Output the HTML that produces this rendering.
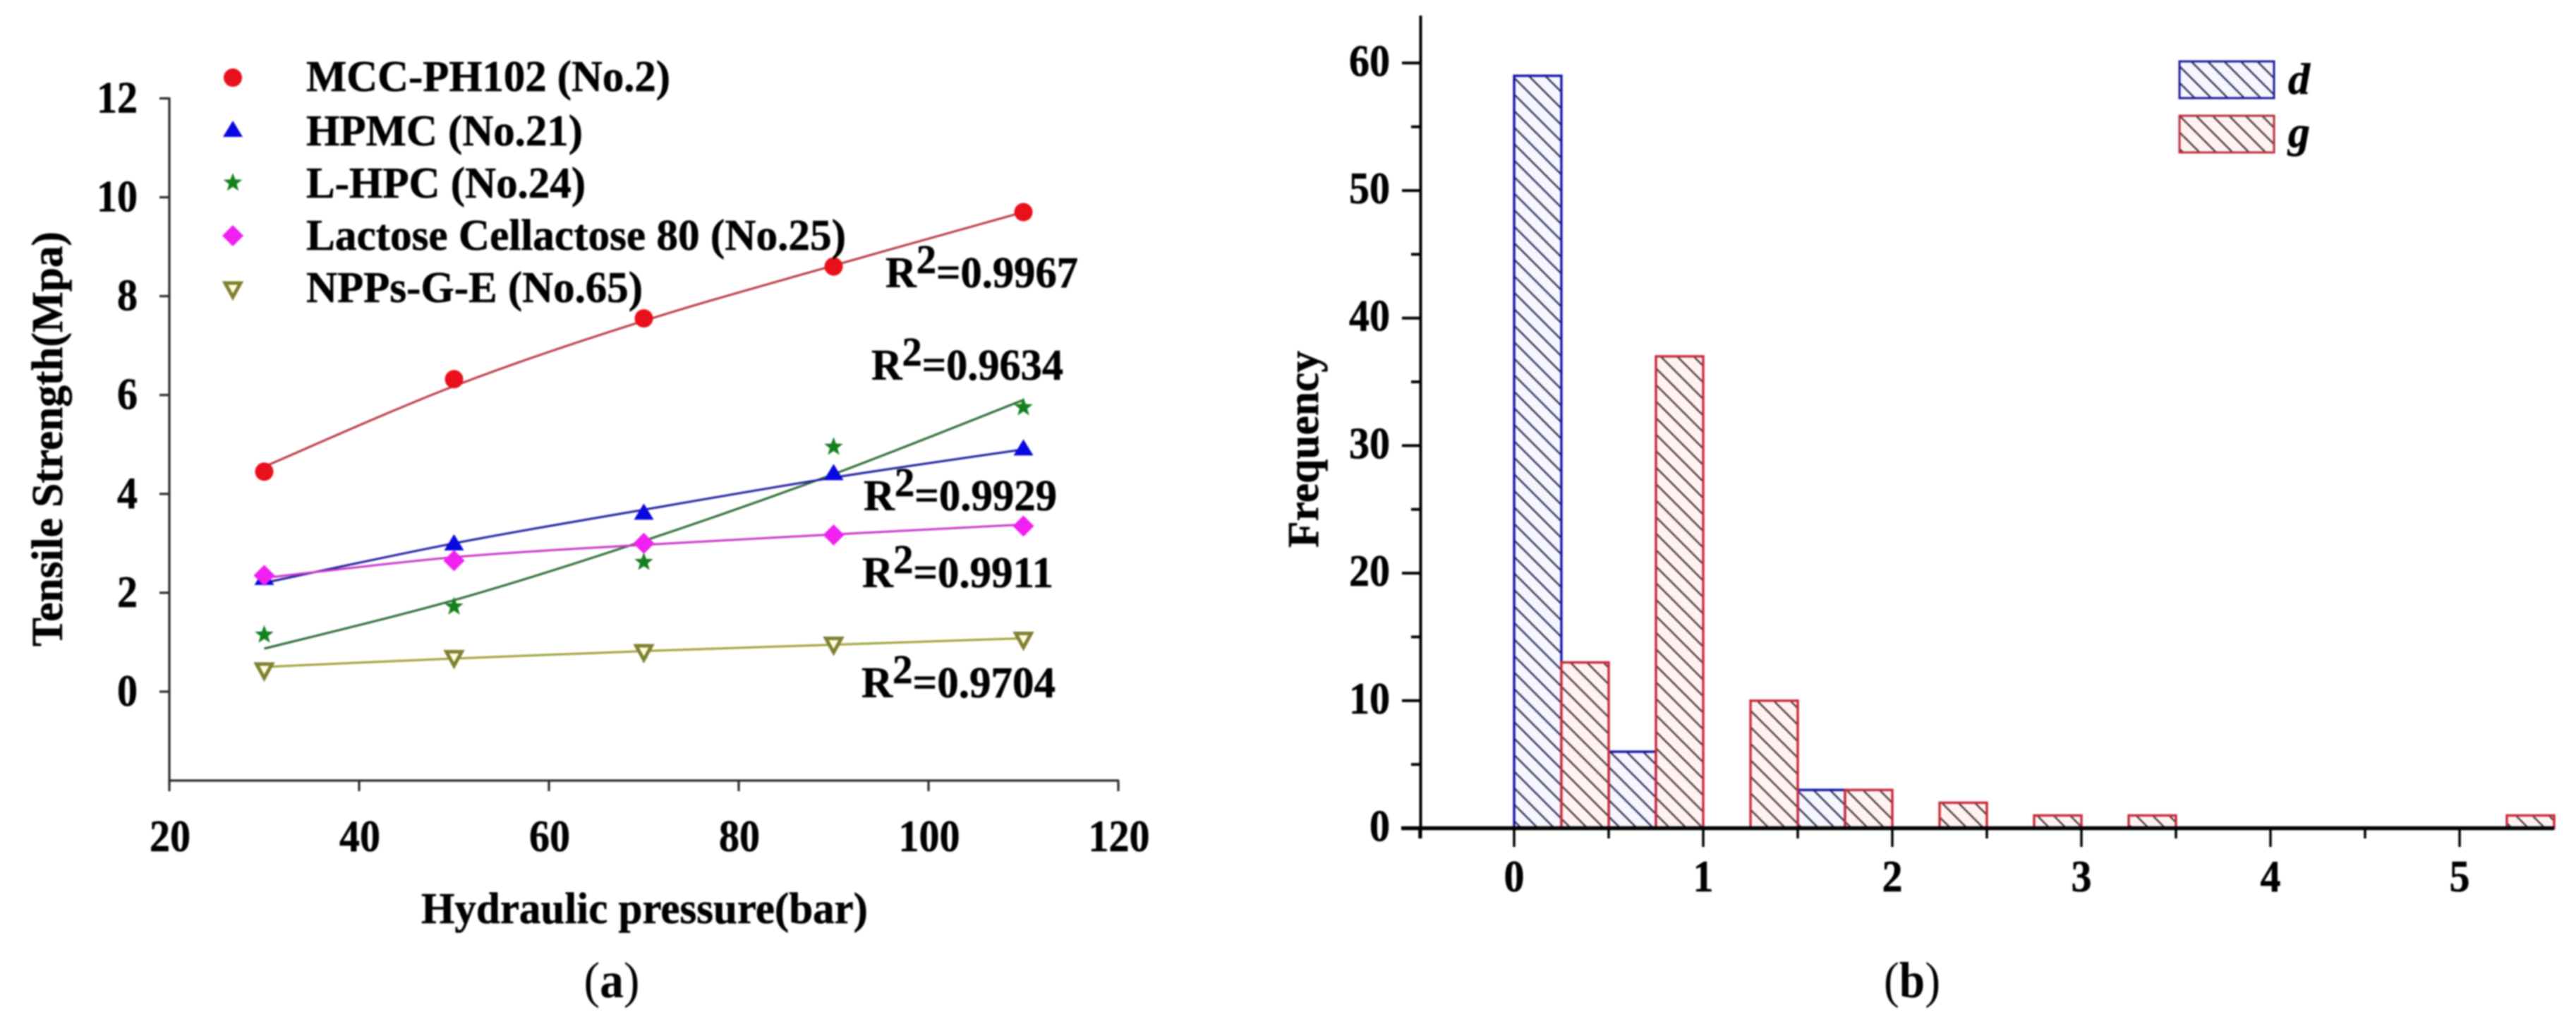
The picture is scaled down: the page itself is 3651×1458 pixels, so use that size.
<!DOCTYPE html>
<html lang="en">
<head>
<meta charset="utf-8">
<title>Tensile strength and frequency charts</title>
<style>
html,body{margin:0;padding:0;background:#fff;width:3651px;height:1458px;overflow:hidden}
svg{display:block;filter:blur(1px)}
text{font-family:"Liberation Serif",serif;font-weight:bold;fill:#000;stroke:#000;stroke-width:.6px}
</style>
</head>
<body>
<svg id="figure" xmlns="http://www.w3.org/2000/svg" width="3651" height="1458" viewBox="0 0 3651 1458">
<defs>
<pattern id="hatch-d" patternUnits="userSpaceOnUse" width="23.4" height="23.4">
<rect width="23.4" height="23.4" fill="#f6f6ff"/>
<path d="M-6 -6L29.4 29.4M-6 17.4L6 29.4M17.4 -6L29.4 6" stroke="#1c1c48" stroke-width="2.2"/>
</pattern>
<pattern id="hatch-g" patternUnits="userSpaceOnUse" width="23.4" height="23.4">
<rect width="23.4" height="23.4" fill="#fff3f2"/>
<path d="M-6 -6L29.4 29.4M-6 17.4L6 29.4M17.4 -6L29.4 6" stroke="#3a2426" stroke-width="2.2"/>
</pattern>
</defs>
<rect width="3651" height="1458" fill="#fff"/>

<g id="panel-a">
<g id="a-axes"></g>
<g id="a-series"></g>
<g>
<g id="a-legend-markers"></g>
<text x="434" y="129" font-size="62" textLength="516" lengthAdjust="spacingAndGlyphs">MCC-PH102 (No.2)</text>
<text x="434" y="206" font-size="62" textLength="392" lengthAdjust="spacingAndGlyphs">HPMC (No.21)</text>
<text x="434" y="280" font-size="62" textLength="396" lengthAdjust="spacingAndGlyphs">L-HPC (No.24)</text>
<text x="434" y="354" font-size="62" textLength="765" lengthAdjust="spacingAndGlyphs">Lactose Cellactose 80 (No.25)</text>
<text x="434" y="428" font-size="62" textLength="477" lengthAdjust="spacingAndGlyphs">NPPs-G-E (No.65)</text>
</g>
<text x="1255" y="407" font-size="62" textLength="273" lengthAdjust="spacingAndGlyphs">R<tspan dy="-20" font-size="58">2</tspan><tspan dy="20">=0.9967</tspan></text>
<text x="1235" y="538" font-size="62" textLength="272" lengthAdjust="spacingAndGlyphs">R<tspan dy="-20" font-size="58">2</tspan><tspan dy="20">=0.9634</tspan></text>
<text x="1224" y="723" font-size="62" textLength="274" lengthAdjust="spacingAndGlyphs">R<tspan dy="-20" font-size="58">2</tspan><tspan dy="20">=0.9929</tspan></text>
<text x="1222" y="832" font-size="62" textLength="271" lengthAdjust="spacingAndGlyphs">R<tspan dy="-20" font-size="58">2</tspan><tspan dy="20">=0.9911</tspan></text>
<text x="1221" y="988" font-size="62" textLength="275" lengthAdjust="spacingAndGlyphs">R<tspan dy="-20" font-size="58">2</tspan><tspan dy="20">=0.9704</tspan></text>
<text x="597" y="1308" font-size="62" textLength="633" lengthAdjust="spacingAndGlyphs">Hydraulic pressure(bar)</text>
<text transform="translate(88 916) rotate(-90)" font-size="62" textLength="588" lengthAdjust="spacingAndGlyphs">Tensile Strength(Mpa)</text>
<text x="867" y="1413" font-size="72" text-anchor="middle" textLength="79" lengthAdjust="spacingAndGlyphs" style="font-weight:normal;stroke-width:0">(<tspan font-weight="bold">a</tspan>)</text>
</g>

<g id="panel-b">
<g id="b-bars"></g>
<g id="b-axes"></g>
<g>
<rect x="3089" y="87" width="134" height="52" fill="url(#hatch-d)" stroke="#1c1c9c" stroke-width="3"/>
<rect x="3089" y="164" width="134" height="52" fill="url(#hatch-g)" stroke="#b83040" stroke-width="3"/>
<text x="3243" y="133" font-size="62" font-style="italic">d</text>
<text x="3243" y="208" font-size="62" font-style="italic">g</text>
</g>
<text transform="translate(1868 776) rotate(-90)" font-size="62" textLength="279" lengthAdjust="spacingAndGlyphs">Frequency</text>
<text x="2710" y="1413" font-size="72" text-anchor="middle" textLength="80" lengthAdjust="spacingAndGlyphs" style="font-weight:normal;stroke-width:0">(<tspan font-weight="bold">b</tspan>)</text>
</g>
</svg>

<script>
/* ---------- Panel (a) data ---------- */
const pressure = [30, 50, 70, 90, 110];
const mccValues = [4.45, 6.32, 7.55, 8.6, 9.7];
const hpmcValues = [2.3, 3.0, 3.62, 4.42, 4.92];
const lhpcValues = [1.15, 1.72, 2.62, 4.95, 5.75];
const lactoseValues = [2.35, 2.65, 3.0, 3.17, 3.35];
const nppsValues = [0.43, 0.68, 0.8, 0.95, 1.05];
const mccFit = [4.55, 6.18, 7.5, 8.62, 9.7];
const hpmcFit = [2.2, 3.0, 3.68, 4.33, 4.9];
const lhpcFit = [0.87, 1.85, 3.05, 4.4, 5.9];
const lactoseFit = [2.3, 2.72, 2.97, 3.18, 3.38];
const nppsFit = [0.5, 0.67, 0.82, 0.95, 1.08];
const xTicksA = [20, 40, 60, 80, 100, 120];
const yTicksA = [0, 2, 4, 6, 8, 10, 12];

/* ---------- Panel (b) data ---------- */
const binStarts = [0, 0.5, 1, 1.5, 2, 2.5, 3, 5];
const dCounts = [59, 6, 0, 3, 0, 0, 0, 0];
const gCounts = [13, 37, 10, 3, 2, 1, 1, 1];
const binWidth = 0.5;
const xTicksB = [0, 1, 2, 3, 4, 5];
const xMinorB = [-0.5, 0.5, 1.5, 2.5, 3.5, 4.5];
const yTicksB = [0, 10, 20, 30, 40, 50, 60];
const yMinorB = [5, 15, 25, 35, 45, 55];

/* ---------- Axis functions ---------- */
const xA = v => 240 + (v - 20) * 13.45;
const yA = v => 980 - v * 70.05;
const xB = v => 2146 + v * 268;
const yB = v => 1173.5 - v * 18.07;

const NS = 'http://www.w3.org/2000/svg';
function make(parent, tag) {
  const el = document.createElementNS(NS, tag);
  parent.appendChild(el);
  return el;
}
function line(parent, x1, y1, x2, y2, w, color) {
  const el = make(parent, 'line');
  el.setAttribute('x1', x1);
  el.setAttribute('y1', y1);
  el.setAttribute('x2', x2);
  el.setAttribute('y2', y2);
  el.setAttribute('stroke', color);
  el.setAttribute('stroke-width', w);
  return el;
}
function label(parent, x, y, str, anchor) {
  const el = make(parent, 'text');
  el.setAttribute('x', x);
  el.setAttribute('y', y);
  el.setAttribute('font-size', '63');
  el.setAttribute('text-anchor', anchor);
  el.setAttribute('textLength', str.length * 29);
  el.setAttribute('lengthAdjust', 'spacingAndGlyphs');
  el.textContent = str;
  return el;
}
function smoothPath(px, py) {
  let d = 'M' + px[0] + ' ' + py[0];
  for (let i = 0; i < px.length - 1; i++) {
    const p0 = i > 0 ? i - 1 : i;
    const p3 = i + 2 < px.length ? i + 2 : i + 1;
    const c1x = px[i] + (px[i + 1] - px[p0]) / 6;
    const c1y = py[i] + (py[i + 1] - py[p0]) / 6;
    const c2x = px[i + 1] - (px[p3] - px[i]) / 6;
    const c2y = py[i + 1] - (py[p3] - py[i]) / 6;
    d += 'C' + c1x + ' ' + c1y + ' ' + c2x + ' ' + c2y + ' ' + px[i + 1] + ' ' + py[i + 1];
  }
  return d;
}
function marker(parent, kind, color, cx, cy) {
  let el;
  if (kind === 'circle') {
    el = make(parent, 'circle');
    el.setAttribute('cx', cx);
    el.setAttribute('cy', cy);
    el.setAttribute('r', 13);
    el.setAttribute('fill', color);
    return el;
  }
  el = make(parent, 'path');
  let d = '';
  if (kind === 'triangle') {
    d = 'M' + cx + ' ' + (cy - 13) + 'L' + (cx + 14) + ' ' + (cy + 10) + 'L' + (cx - 14) + ' ' + (cy + 10) + 'Z';
  } else if (kind === 'diamond') {
    d = 'M' + cx + ' ' + (cy - 15) + 'L' + (cx + 15) + ' ' + cy + 'L' + cx + ' ' + (cy + 15) + 'L' + (cx - 15) + ' ' + cy + 'Z';
  } else if (kind === 'star') {
    for (let i = 0; i < 10; i++) {
      const r = i % 2 ? 5.8 : 14;
      const t = -Math.PI / 2 + i * Math.PI / 5;
      d += (i ? 'L' : 'M') + (cx + r * Math.cos(t)) + ' ' + (cy + r * Math.sin(t));
    }
    d += 'Z';
  } else {
    d = 'M' + (cx - 11) + ' ' + (cy - 9) + 'L' + (cx + 11) + ' ' + (cy - 9) + 'L' + cx + ' ' + (cy + 11) + 'Z';
  }
  el.setAttribute('d', d);
  if (kind === 'hollow') {
    el.setAttribute('fill', '#ffffe0');
    el.setAttribute('stroke', color);
    el.setAttribute('stroke-width', '5');
  } else {
    el.setAttribute('fill', color);
  }
  return el;
}

/* ---------- Panel (a) axes ---------- */
const axesA = document.getElementById('a-axes');
const axisColorA = '#2a2a2a';
let el = line(axesA, 240, 138, 240, 1107.5, 3.2, axisColorA);


el = line(axesA, 238.5, 1106, 1586, 1106, 3.2, axisColorA);


yTicksA.forEach(v => {
  const t = line(axesA, 226, yA(v), 240, yA(v), 3.2, axisColorA);
  
  
  const l = label(axesA, 195, yA(v) + 20, String(v), 'end');
  
  
});
xTicksA.forEach(v => {
  const t = line(axesA, xA(v), 1106, xA(v), 1121, 3.2, axisColorA);
  
  
  const l = label(axesA, xA(v) + 1, 1206, String(v), 'middle');
  
  
});

/* ---------- Panel (a) series ---------- */
const seriesA = document.getElementById('a-series');
function drawSeries(name, values, fit, kind, color, lineColor) {
  const curve = make(seriesA, 'path');
  curve.setAttribute('d', smoothPath(pressure.map(xA), fit.map(yA)));
  curve.setAttribute('fill', 'none');
  curve.setAttribute('stroke', lineColor);
  curve.setAttribute('stroke-width', '3');
  
  
  values.forEach((v, i) => {
    const m = marker(seriesA, kind, color, xA(pressure[i]), yA(v));
    
    
  });
}
drawSeries('mcc', mccValues, mccFit, 'circle', '#e8101a', '#b83840');
drawSeries('lhpc', lhpcValues, lhpcFit, 'star', '#14801f', '#2a6a30');
drawSeries('hpmc', hpmcValues, hpmcFit, 'triangle', '#0808e0', '#2020a0');
drawSeries('lactose', lactoseValues, lactoseFit, 'diamond', '#f020f0', '#c838c8');
drawSeries('npps', nppsValues, nppsFit, 'hollow', '#808030', '#a0a038');

const legendMarkers = document.getElementById('a-legend-markers');
let lm = marker(legendMarkers, 'circle', '#e8101a', 330, 110);


lm = marker(legendMarkers, 'triangle', '#0808e0', 330, 184);


lm = marker(legendMarkers, 'star', '#14801f', 330, 259);


lm = marker(legendMarkers, 'diamond', '#f020f0', 330, 334);


lm = marker(legendMarkers, 'hollow', '#808030', 330, 410);



/* ---------- Panel (b) bars ---------- */
const barsB = document.getElementById('b-bars');
function drawBar(name, start, count, offset, fill, stroke) {
  if (!count) return;
  const left = xB(start + offset * binWidth);
  const right = xB(start + (offset + 0.5) * binWidth);
  const r = make(barsB, 'rect');
  r.setAttribute('x', left);
  r.setAttribute('y', yB(count));
  r.setAttribute('width', right - left);
  r.setAttribute('height', yB(0) - yB(count));
  r.setAttribute('fill', fill);
  r.setAttribute('stroke', stroke);
  r.setAttribute('stroke-width', '3.4');
  
  
}
binStarts.forEach((s, i) => {
  drawBar('bar-d', s, dCounts[i], 0, 'url(#hatch-d)', '#1414a8');
});
binStarts.forEach((s, i) => {
  drawBar('bar-g', s, gCounts[i], 0.5, 'url(#hatch-g)', '#c8283a');
});

/* ---------- Panel (b) axes ---------- */
const axesB = document.getElementById('b-axes');
el = line(axesB, 2013.5, 22, 2013.5, 1188, 4, '#000');


el = line(axesB, 1986, yB(0), 3620, yB(0), 5.5, '#000');


yTicksB.forEach(v => {
  const t = line(axesB, 1987, yB(v), 2014, yB(v), 4, '#000');
  
  
  const l = label(axesB, 1970, yB(v) + 18, String(v), 'end');
  
  
});
yMinorB.forEach(v => {
  const t = line(axesB, 2000, yB(v), 2014, yB(v), 4, '#000');
  
  
});
xTicksB.forEach(v => {
  const t = line(axesB, xB(v), yB(0), xB(v), 1200, 3.5, '#000');
  
  
  const l = label(axesB, xB(v), 1263, String(v), 'middle');
  
  
});
xMinorB.forEach(v => {
  const t = line(axesB, xB(v), yB(0), xB(v), 1188, 3.5, '#000');
  
  
});
</script>
</body>
</html>
